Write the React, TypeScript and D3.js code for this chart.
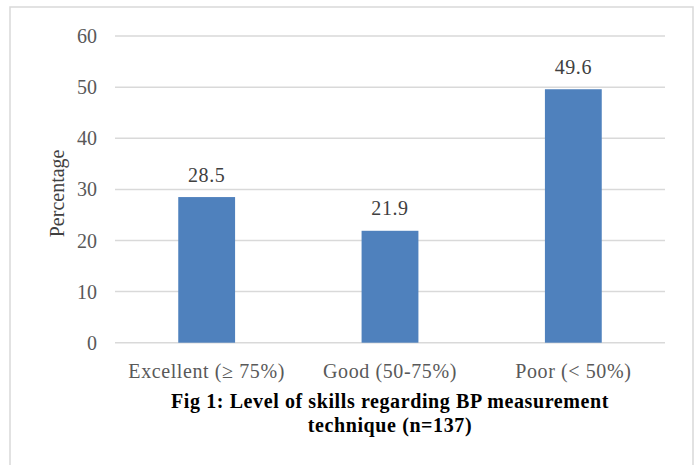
import React from "react";
import * as d3 from "d3";

const categories = ["Excellent (\u2265 75%)", "Good (50-75%)", "Poor (< 50%)"];
const values = [28.5, 21.9, 49.6];
const yTicks = [0, 10, 20, 30, 40, 50, 60];
const captionLines = ["Fig 1: Level of skills regarding BP measurement", "technique (n=137)"];
const yTitle = "Percentage";

export default function App() {
  const W = 699, H = 465;
  const left = 115, right = 665, top = 36.1, bottom = 342.7;
  const x = d3.scaleBand<string>().domain(categories).range([left, right]).paddingInner(0.69).paddingOuter(0.345);
  const y = d3.scaleLinear().domain([0, 60]).range([bottom, top]);
  const font = "'Liberation Serif', 'Times New Roman', serif";
  const gray = "#595959";
  return (
    <svg width={W} height={H} style={{ position: "absolute", left: 0, top: 0, background: "#fff" }} fontFamily={font}>
      <rect x={10} y={7} width={683} height={480} fill="#fff" stroke="#d9d9d9" strokeWidth={1.5} />
      {yTicks.map((t) => (
        <g key={t}>
          <line x1={left} x2={right} y1={y(t)} y2={y(t)} stroke="#d9d9d9" strokeWidth={1.5} />
          <text x={97} y={y(t)} dy="0.35em" textAnchor="end" fontSize={20} fill={gray}>{t}</text>
        </g>
      ))}
      {categories.map((c, i) => (
        <g key={c}>
          <rect x={x(c)} y={y(values[i])} width={x.bandwidth()} height={y(0) - y(values[i])} fill="#4f81bd" />
          <text x={x(c)! + x.bandwidth() / 2} y={y(values[i]) - 15.5} textAnchor="middle" fontSize={20} letterSpacing={0.6} fill="#404040">{values[i]}</text>
          <text x={x(c)! + x.bandwidth() / 2} y={378} textAnchor="middle" fontSize={20} letterSpacing={0.6} fill={gray}>{c}</text>
        </g>
      ))}
      <text transform={`translate(64,${(top + bottom) / 2 + 4}) rotate(-90)`} textAnchor="middle" fontSize={20} fill="#404040">{yTitle}</text>
      {captionLines.map((l, i) => (
        <text key={i} x={390} y={408 + i * 24} textAnchor="middle" fontSize={20} letterSpacing={0.6} fontWeight="bold" fill="#000">{l}</text>
      ))}
    </svg>
  );
}
